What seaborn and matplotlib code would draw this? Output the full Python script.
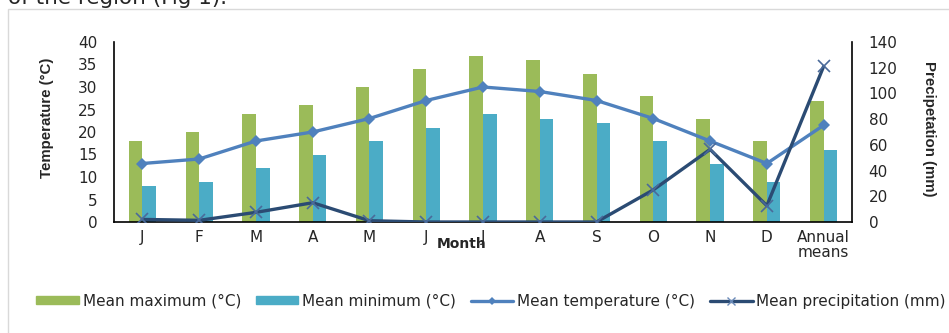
import matplotlib
matplotlib.use("Agg")
import matplotlib.pyplot as plt
import matplotlib.patches as mpatches
from matplotlib.lines import Line2D
import numpy as np
import pandas as pd
import seaborn as sns

# Monthly climate data
months = ["J", "F", "M", "A", "M", "J", "J", "A", "S", "O", "N", "D", "Annual\nmeans"]
mean_max = [18, 20, 24, 26, 30, 34, 37, 36, 33, 28, 23, 18, 27]
mean_min = [8, 9, 12, 15, 18, 21, 24, 23, 22, 18, 13, 9, 16]
mean_temp = [13, 14, 18, 20, 23, 27, 30, 29, 27, 23, 18, 13, 21.5]
mean_precip = [2, 1.3, 7.5, 15, 1, 0, 0, 0, 0, 25, 56.5, 12.7, 121]

green = "#9BBB59"
cyan = "#4BACC6"
temp_col = "#4F81BD"
precip_col = "#2B4B73"
text_col = "#262626"

sns.set_style("white")
plt.rcParams["font.family"] = ["DejaVu Sans"]

W, H = 949, 333
fig = plt.figure(figsize=(W / 100, H / 100), dpi=100)
ax = fig.add_axes([114 / W, 1 - 222 / H, (852 - 114) / W, (222 - 42) / H])

idx = np.arange(len(months))
bars = pd.DataFrame({
    "pos": np.concatenate([idx, idx]),
    "value": mean_max + mean_min,
    "series": ["Mean maximum (°C)"] * len(idx) + ["Mean minimum (°C)"] * len(idx),
})
sns.barplot(data=bars, x="pos", y="value", hue="series",
            palette=[green, cyan], width=0.48, ax=ax, legend=False,
            saturation=1, linewidth=0)

sns.lineplot(x=idx, y=mean_temp, ax=ax, color=temp_col, linewidth=2.4,
             marker="D", markersize=6.5, markeredgewidth=0)
ax.set_ylim(0, 40)
ax.set_yticks(range(0, 41, 5))
ax.set_xlim(-0.5, len(months) - 0.5)
ax.set_xticks(idx)
ax.set_xticklabels(months, fontsize=11, color=text_col, linespacing=1.0)
ax.tick_params(axis="y", labelsize=11, labelcolor=text_col, length=0, pad=12)
ax.tick_params(axis="x", length=0, pad=6)
ax.set_xlabel("")
ax.set_ylabel("")

ax2 = ax.twinx()
sns.lineplot(x=idx, y=mean_precip, ax=ax2, color=precip_col, linewidth=2.4,
             marker="x", markersize=8, markeredgewidth=1.2,
             markeredgecolor="#4A6A9A")
ax2.set_ylim(0, 140)
ax2.set_yticks(range(0, 141, 20))
ax2.tick_params(axis="y", labelsize=11, labelcolor=text_col, length=0, pad=12)
ax2.set_ylabel("")

for a in (ax, ax2):
    a.spines["top"].set_visible(False)
    for s in ("left", "right", "bottom"):
        a.spines[s].set_color("black")
        a.spines[s].set_linewidth(1.2)
ax.spines["right"].set_visible(False)
ax2.spines["left"].set_visible(False)
ax2.spines["bottom"].set_visible(False)

# Axis titles
fig.text(47 / W, 1 - 118 / H, "Temperature (°C)", rotation=90, ha="center",
         va="center", fontsize=10.8, fontweight="bold", color=text_col,
         family="Liberation Sans")
fig.text(928.5 / W, 1 - 129 / H, "Precipetation (mm)", rotation=-90, ha="center",
         va="center", fontsize=10.8, fontweight="bold", color=text_col,
         family="Liberation Sans")
fig.text(462 / W, 1 - 244 / H, "Month", ha="center", va="center",
         fontsize=10, fontweight="bold", color=text_col)

# Caption line running above the chart frame
fig.text(8 / W, 1 - 4.5 / H, "of the region (Fig 1).", ha="left", va="baseline",
         fontsize=15.5, color=text_col)

# Chart frame
frame = mpatches.Rectangle((8 / W, -0.1), 1.2, 1.1 - 9 / H, transform=fig.transFigure,
                           fill=False, edgecolor="#D9D9D9", linewidth=1)
fig.patches.append(frame)

handles = [
    mpatches.Patch(color=green, label="Mean maximum (°C)"),
    mpatches.Patch(color=cyan, label="Mean minimum (°C)"),
    Line2D([], [], color=temp_col, linewidth=2.4, marker="D", markersize=4,
           markeredgewidth=0, label="Mean temperature (°C)"),
    Line2D([], [], color=precip_col, linewidth=2.4, marker="x", markersize=6,
           markeredgewidth=1, markeredgecolor="#6A8AB8", label="Mean precipitation (mm)"),
]
fig.legend(handles=handles, loc="center", bbox_to_anchor=(491 / W, 1 - 301 / H),
           ncol=4, frameon=False, fontsize=11, handlelength=2.8, handleheight=0.45,
           handletextpad=0.25, columnspacing=0.95, labelcolor=text_col)

fig.savefig("out.png", dpi=100)
